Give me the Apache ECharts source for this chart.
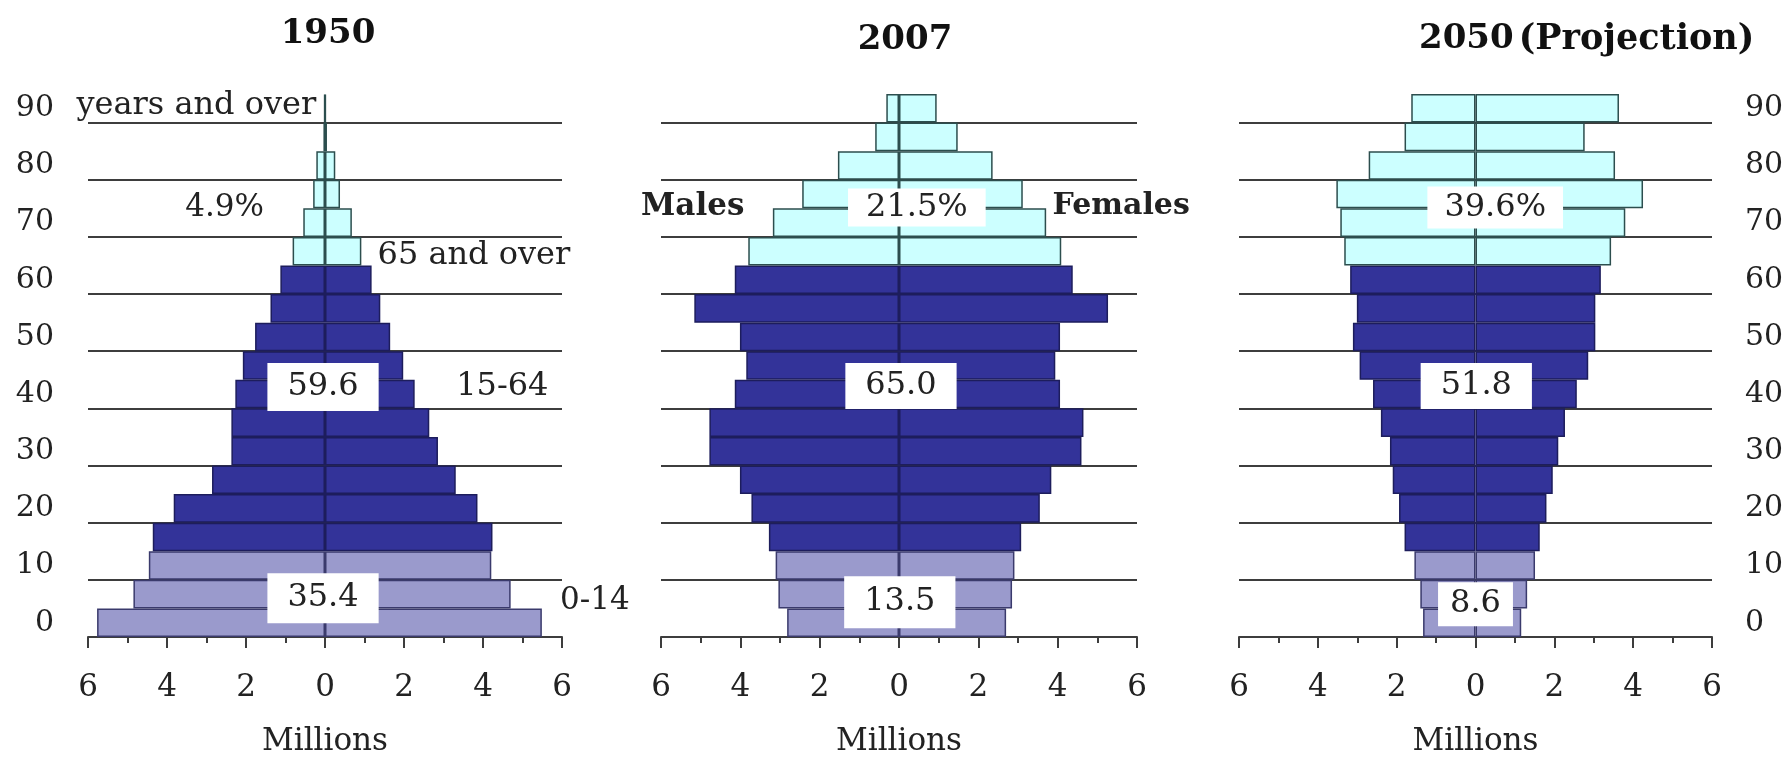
<!DOCTYPE html>
<html>
<head>
<meta charset="utf-8">
<script src="https://cdn.jsdelivr.net/npm/echarts@6/dist/echarts.min.js"></script>
<style>
html,body{margin:0;padding:0;background:#fff;}
#chart{width:1791px;height:762px;}
</style>
</head>
<body>
<div id="chart"></div>
<script>
// ---------------- data ----------------
const ageGroups = ['0-4','5-9','10-14','15-19','20-24','25-29','30-34','35-39','40-44','45-49',
                   '50-54','55-59','60-64','65-69','70-74','75-79','80-84','85-89','90+'];
const ageTickLabels = ['0','','10','','20','','30','','40','','50','','60','','70','','80','','90'];

// population in millions, index follows ageGroups
const males1950   = [5.77, 4.85, 4.46, 4.36, 3.83, 2.86, 2.37, 2.37, 2.27, 2.08, 1.77, 1.38, 1.13, 0.82, 0.55, 0.30, 0.22, 0.04, 0.02];
const females1950 = [5.49, 4.70, 4.21, 4.24, 3.86, 3.31, 2.86, 2.64, 2.27, 1.98, 1.65, 1.40, 1.18, 0.92, 0.68, 0.38, 0.26, 0.05, 0.02];

const males2007   = [2.82, 3.04, 3.11, 3.28, 3.72, 4.01, 4.78, 4.78, 4.14, 3.85, 4.01, 5.16, 4.14, 3.80, 3.18, 2.44, 1.54, 0.60, 0.32];
const females2007 = [2.70, 2.85, 2.91, 3.08, 3.55, 3.84, 4.60, 4.65, 4.06, 3.94, 4.06, 5.27, 4.38, 4.09, 3.71, 3.12, 2.36, 1.48, 0.95];

const males2050   = [1.33, 1.40, 1.55, 1.80, 1.94, 2.10, 2.17, 2.40, 2.60, 2.94, 3.11, 3.01, 3.18, 3.33, 3.43, 3.53, 2.71, 1.80, 1.63];
const females2050 = [1.16, 1.31, 1.51, 1.63, 1.80, 1.96, 2.10, 2.27, 2.57, 2.86, 3.04, 3.04, 3.18, 3.44, 3.80, 4.25, 3.54, 2.77, 3.64];

const panelYears  = ['1950', '2007', '2050'];
const share65plus = ['4.9%', '21.5%', '39.6%'];
const share15to64 = ['59.6', '65.0', '51.8'];
const share0to14  = ['35.4', '13.5', '8.6'];
const groupNames  = ['65 and over', '15-64', '0-14'];
const sexNames    = ['Males', 'Females'];
const axisUnit    = 'Millions';

// ---------------- styling ----------------
const FONT = "'DejaVu Serif', 'Liberation Serif', serif";
const INK = '#222';
const LINE = '#3d3d3d';

function groupStyle(i) {
  if (i < 3)  return {color: '#9a9acc', borderColor: '#3a3a6c', borderWidth: 1.5};
  if (i < 13) return {color: '#333399', borderColor: '#1d1d5c', borderWidth: 1.5};
  return {color: '#ccffff', borderColor: '#2c4e4e', borderWidth: 1.5};
}

const panels = [
  {males: males1950, females: females1950, left: 88,   width: 474, yLabels: 'left'},
  {males: males2007, females: females2007, left: 661,  width: 476, yLabels: 'none'},
  {males: males2050, females: females2050, left: 1239, width: 473, yLabels: 'right'}
];
const GRID_TOP = 94, GRID_H = 553;

function note(text, x, age, dx, dy, extra) {
  return {
    coord: [x, age],
    symbol: 'circle', symbolSize: 1,
    itemStyle: {color: 'rgba(0,0,0,0)'},
    label: Object.assign({
      show: true, position: 'inside', formatter: text, offset: [dx, dy],
      fontFamily: FONT, fontSize: 31, color: INK
    }, extra || {})
  };
}
const box = (pad) => ({backgroundColor: '#fff', padding: pad});

const notes = [
  [
    note('years and over', -5.99, '90+', -12, -3, {align: 'left', fontSize: 32}),
    note(share65plus[0], -2.54, '70-74', 0, -15),
    note(groupNames[0], 1.33, '65-69', 0, 5, {align: 'left', fontSize: 32}),
    note(groupNames[1], 4.49, '40-44', 0, -7, {fontSize: 32}),
    note(groupNames[2], 5.95, '5-9', 0, 7, {align: 'left'}),
    note(share15to64[0], -0.05, '40-44', 0, -7, Object.assign({fontSize: 32}, box([8, 20]))),
    note(share0to14[0], -0.05, '5-9', 0, 4, Object.assign({fontSize: 32}, box([9, 20])))
  ],
  [
    note(sexNames[0], -5.2, '70-74', 0, -16, {fontWeight: 'bold', fontSize: 31}),
    note(sexNames[1], 5.6, '70-74', 0, -16, {fontWeight: 'bold', fontSize: 30}),
    note(share65plus[1], 0.45, '70-74', 0, -15, Object.assign({fontSize: 32}, box([3, 18]))),
    note(share15to64[1], 0.05, '40-44', 0, -8, Object.assign({fontSize: 32}, box([7, 20]))),
    note(share0to14[1], 0.02, '5-9', 0, 8, Object.assign({fontSize: 32}, box([10, 20])))
  ],
  [
    note(share65plus[2], 0.5, '70-74', 0, -15, Object.assign({fontSize: 32}, box([5, 17]))),
    note(share15to64[2], 0.02, '40-44', 0, -8, Object.assign({fontSize: 32}, box([7, 20]))),
    note(share0to14[2], 0.0, '5-9', 0, 10, Object.assign({fontSize: 32}, box([6, 12])))
  ]
];

const grid = [], xAxis = [], yAxis = [], series = [];
panels.forEach((p, k) => {
  grid.push({left: p.left, top: GRID_TOP, width: p.width, height: GRID_H});
  xAxis.push({
    type: 'value', gridIndex: k, min: -6, max: 6, interval: 2,
    axisLine: {show: true, lineStyle: {color: LINE, width: 2}},
    axisTick: {show: true, length: 11, lineStyle: {color: LINE, width: 2}},
    minorTick: {show: true, splitNumber: 2, length: 6, lineStyle: {color: LINE, width: 2}},
    axisLabel: {formatter: v => String(Math.abs(v)), fontFamily: FONT, fontSize: 31, color: INK, margin: 35},
    splitLine: {show: false},
    name: axisUnit, nameLocation: 'middle', nameGap: 89,
    nameTextStyle: {fontFamily: FONT, fontSize: 31, color: INK}
  });
  yAxis.push({
    type: 'category', gridIndex: k, data: ageGroups, boundaryGap: true,
    position: p.yLabels === 'right' ? 'right' : 'left',
    axisLine: {show: false}, axisTick: {show: false},
    axisLabel: {
      show: p.yLabels !== 'none', interval: 0,
      formatter: (v, i) => ageTickLabels[i],
      fontFamily: FONT, fontSize: 30, color: INK, margin: p.yLabels === 'right' ? 33 : 34
    },
    splitLine: {
      show: true, showMaxLine: false,
      interval: (idx) => idx > 0 && idx % 2 === 0,
      lineStyle: {color: [LINE, LINE, LINE, LINE, LINE, LINE, LINE, LINE, LINE, 'rgba(0,0,0,0)'], width: 2}
    }
  });
  series.push({
    type: 'bar', xAxisIndex: k, yAxisIndex: k, name: sexNames[0],
    barWidth: '100%', barGap: '-100%', silent: true, animation: false,
    data: p.males.map((v, i) => ({value: -v, itemStyle: groupStyle(i)}))
  });
  series.push({
    type: 'bar', xAxisIndex: k, yAxisIndex: k, name: sexNames[1],
    barWidth: '100%', barGap: '-100%', silent: true, animation: false,
    data: p.females.map((v, i) => ({value: v, itemStyle: groupStyle(i)})),
    markPoint: {silent: true, animation: false, data: notes[k]}
  });
});

const titleStyle = {fontFamily: FONT, fontSize: 34, fontWeight: 'bold', color: '#111'};
const option = {
  backgroundColor: '#fff',
  animation: false,
  title: [
    {text: panelYears[0], left: 323, top: 12, textAlign: 'center', textStyle: titleStyle},
    {text: panelYears[1], left: 900, top: 18, textAlign: 'center', textStyle: titleStyle},
    {text: '{b|' + panelYears[2] + '} {n|(Projection)}', left: 1414, top: 17,
     textStyle: {rich: {
       b: {fontFamily: FONT, fontSize: 34, fontWeight: 'bold', color: '#111'},
       n: {fontFamily: FONT, fontSize: 35, fontWeight: 'bold', color: '#111'}
     }}}
  ],
  grid, xAxis, yAxis, series
};

const chart = echarts.init(document.getElementById('chart'), null, {renderer: 'canvas'});
chart.setOption(option);
</script>
</body>
</html>
